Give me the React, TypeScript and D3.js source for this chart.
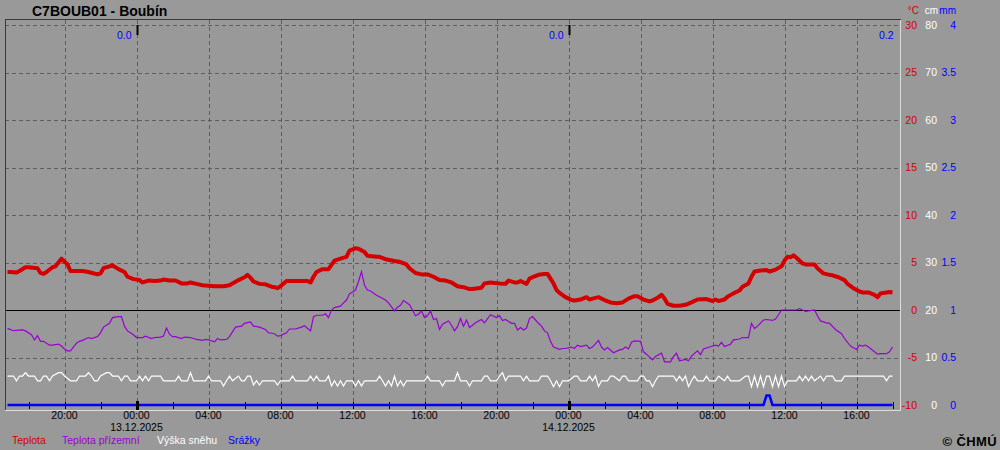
import React from "react";
import * as d3 from "d3";

// 10-minute steps since 12.12.2025 16:50
const START = new Date(2025, 11, 12, 16, 50);
const STEP_MIN = 10;

const TITLE = "C7BOUB01 - Boubín";

// [step index, °C]
const tempData: [number, number][] = [
  [0,4.0],[1,4.0],[3,3.95],[4,4.1],[6,4.5],[7,4.5],[10,4.4],[11,3.9],[12,3.8],[13,4.0],[15,4.5],[16,4.6],[17,5.0],[18,5.4],
  [20,4.8],[21,4.1],[23,4.1],[25,4.1],[27,4.0],[30,3.75],[31,3.85],[32,4.4],[34,4.6],[35,4.7],[37,4.3],[39,4.0],[40,3.5],
  [42,3.25],[44,3.15],[45,2.9],[47,3.1],[49,3.05],[51,3.1],[52,3.2],[54,3.1],[56,3.1],[58,2.8],[60,2.8],[61,2.9],[63,2.75],
  [65,2.6],[69,2.5],[72,2.5],[74,2.6],[75,2.8],[77,3.15],[79,3.45],[80,3.7],[81,3.4],[82,3.0],[84,2.75],[86,2.7],[88,2.45],
  [89,2.4],[90,2.3],[91,2.5],[93,3.05],[95,3.05],[98,3.05],[100,3.05],[101,2.9],[102,3.5],[103,4.0],[105,4.3],[107,4.3],
  [108,4.75],[109,5.2],[111,5.4],[113,5.6],[114,6.25],[116,6.5],[117,6.45],[119,6.1],[120,5.7],[123,5.6],[124,5.6],[126,5.35],
  [129,5.15],[131,5.05],[133,4.8],[134,4.4],[136,3.9],[138,3.75],[140,3.75],[142,3.5],[144,3.15],[146,3.1],[148,2.9],[150,2.5],
  [152,2.4],[154,2.2],[155,2.2],[158,2.35],[159,2.8],[161,2.9],[164,2.8],[166,2.75],[167,3.1],[169,2.9],[170,2.9],[171,3.05],
  [173,2.75],[174,3.3],[175,3.45],[177,3.7],[179,3.8],[180,3.8],[182,2.8],[183,2.1],[184,1.8],[186,1.35],[188,1.05],[189,1.0],
  [191,1.1],[193,1.35],[194,1.1],[195,1.2],[197,1.35],[199,1.05],[201,0.8],[203,0.7],[205,0.8],[207,1.2],[209,1.45],[210,1.45],
  [212,1.1],[214,0.9],[215,1.0],[217,1.35],[218,1.6],[219,1.2],[220,0.65],[222,0.45],[224,0.45],[226,0.55],[228,0.8],[230,1.1],
  [233,1.15],[235,0.95],[236,1.1],[237,0.95],[239,1.1],[240,1.4],[242,1.75],[244,2.05],[245,2.45],[247,2.8],[248,3.5],[249,4.05],
  [251,4.15],[253,4.2],[254,4.05],[256,4.25],[258,4.6],[259,5.2],[260,5.6],[261,5.55],[262,5.75],[263,5.5],[265,4.9],[266,4.8],
  [269,4.8],[270,4.4],[272,3.85],[274,3.7],[275,3.65],[277,3.45],[279,3.15],[280,2.75],[282,2.3],[284,1.95],[285,1.85],[287,1.85],
  [289,1.6],[290,1.35],[291,1.75],[293,1.85],[294,1.9],[295,1.85],
];

// [step index, °C] ground temperature
const groundData: [number, number][] = [
  [0,-1.93],[2,-2.18],[5,-2.1],[6,-2.2],[8,-2.6],[9,-3.15],[10,-2.7],[11,-3.3],[12,-3.3],[14,-3.7],[15,-3.7],[17,-3.6],[18,-3.8],
  [19,-4.1],[20,-4.3],[21,-4.3],[23,-3.5],[24,-3.3],[25,-3.2],[27,-2.9],[28,-3.0],[30,-2.8],[31,-2.4],[32,-1.8],[34,-1.4],
  [35,-0.8],[37,-0.7],[38,-0.7],[39,-1.7],[40,-2.2],[42,-2.6],[43,-2.9],[45,-2.9],[46,-2.75],[48,-3.0],[49,-2.9],[51,-2.85],
  [52,-2.75],[53,-1.9],[54,-2.55],[55,-2.8],[56,-2.8],[58,-3.0],[59,-2.85],[61,-2.9],[63,-3.1],[65,-3.2],[66,-3.1],[67,-3.15],
  [69,-3.35],[70,-3.0],[71,-3.15],[73,-3.1],[74,-2.8],[75,-2.3],[76,-1.8],[78,-1.7],[79,-1.4],[81,-1.25],[82,-1.7],[84,-1.8],
  [86,-2.05],[87,-2.4],[89,-2.5],[90,-2.75],[91,-2.7],[93,-2.4],[94,-2.0],[96,-2.0],[98,-1.8],[99,-1.65],[101,-2.2],[102,-0.7],
  [103,-0.55],[105,-0.55],[106,-0.4],[107,-0.8],[108,0],[109,0.25],[111,0.4],[112,0.75],[113,1.05],[114,1.7],[115,1.9],[116,2.1],
  [117,3.0],[118,4.05],[119,2.6],[120,2.1],[121,2.0],[123,1.55],[124,1.4],[126,1.05],[127,0.75],[129,-0.1],[130,0.3],[131,0.5],
  [132,1.0],[134,0.55],[135,0],[136,-0.6],[137,-0.45],[138,-0.1],[139,-0.8],[140,-0.6],[141,-0.1],[142,-1.0],[143,-0.9],
  [144,-2.05],[145,-1.5],[147,-1.15],[148,-1.6],[149,-2.2],[150,-1.75],[151,-0.9],[152,-1.7],[153,-1.05],[154,-1.85],[155,-1.6],
  [156,-1.35],[158,-1.0],[159,-1.35],[161,-0.5],[163,-0.8],[164,-0.6],[165,-1.1],[166,-1.0],[168,-1.4],[169,-1.4],[170,-2.1],
  [171,-1.85],[172,-2.1],[173,-1.9],[174,-0.9],[175,-0.7],[176,-1.05],[177,-1.4],[178,-1.7],[179,-2.2],[180,-2.4],[181,-3.3],
  [182,-3.9],[184,-4.15],[185,-4.05],[186,-4.05],[188,-3.9],[189,-4.05],[190,-3.7],[191,-3.85],[193,-3.7],[194,-4.05],[195,-3.9],
  [197,-3.2],[198,-3.9],[199,-4.2],[200,-3.95],[202,-4.5],[204,-4.2],[205,-4.15],[206,-3.9],[207,-4.1],[208,-3.4],[209,-3.25],
  [211,-3.3],[212,-4.4],[213,-4.65],[215,-5.25],[216,-4.9],[218,-4.55],[219,-5.45],[221,-5.45],[222,-4.9],[223,-4.55],[224,-5.35],
  [226,-5.2],[227,-5.35],[228,-4.85],[230,-4.3],[231,-4.7],[232,-4.1],[234,-3.9],[236,-3.7],[237,-3.8],[238,-3.4],[239,-3.85],
  [241,-3.6],[242,-3.15],[244,-3.05],[245,-2.9],[247,-2.9],[248,-1.4],[249,-1.95],[250,-1.7],[252,-1.05],[253,-1.0],[255,-1.1],
  [256,-0.95],[257,-0.5],[258,0],[260,0],[263,0],[264,0.15],[265,0],[266,-0.15],[269,0],[270,-0.6],[271,-1.15],[273,-1.35],
  [274,-1.4],[276,-2.05],[278,-2.5],[279,-3.0],[281,-3.8],[283,-4.15],[284,-3.7],[285,-3.8],[286,-3.7],[287,-3.9],[289,-4.4],
  [290,-4.65],[291,-4.6],[293,-4.6],[294,-4.4],[295,-3.9],
];

// [step index, cm] snow depth
const snowData: [number, number][] = [
  [0,6.1],[2,6.1],[3,5.1],[4,6.1],[5,6.1],[6,6.8],[7,6.1],[9,6.1],[10,5.1],[11,5.1],[12,6.1],[13,6.1],[14,5.1],[15,6.1],
  [17,6.8],[18,6.8],[19,6.1],[21,5.1],[23,5.1],[24,6.1],[26,6.1],[27,6.8],[28,6.1],[29,5.1],[30,5.1],[31,6.1],[33,6.8],[34,6.8],
  [35,6.1],[37,6.1],[38,5.1],[39,6.1],[40,6.1],[41,5.1],[43,5.1],[44,6.1],[45,5.1],[46,6.1],[47,5.1],[48,6.1],[51,6.1],[52,5.1],
  [56,5.1],[57,6.1],[58,5.1],[60,5.1],[61,6.8],[62,5.1],[66,5.1],[67,6.1],[68,5.1],[71,5.1],[72,4.0],[73,5.1],[74,6.1],[75,5.1],
  [77,6.1],[78,5.1],[79,5.1],[80,6.1],[81,6.1],[82,4.2],[83,5.1],[84,4.2],[85,5.1],[89,5.1],[90,4.2],[91,5.1],[94,5.1],[95,6.1],
  [96,5.1],[100,5.1],[101,6.1],[102,5.1],[103,6.1],[104,5.1],[106,5.1],[107,6.1],[108,4.0],[109,5.1],[110,4.0],[111,5.1],
  [112,4.0],[113,5.1],[115,5.1],[116,4.0],[117,5.1],[118,4.0],[119,5.1],[123,5.1],[124,6.1],[125,5.1],[126,4.0],[127,5.1],
  [128,4.0],[129,6.1],[130,4.0],[131,5.1],[132,4.0],[133,5.1],[139,5.1],[140,6.1],[141,5.1],[144,5.1],[145,4.0],[146,5.1],
  [149,5.1],[150,6.8],[151,5.1],[153,5.1],[154,4.0],[155,5.1],[158,5.1],[159,6.1],[160,6.1],[161,5.1],[163,5.1],[164,6.1],
  [165,6.8],[166,5.1],[167,6.1],[171,6.1],[172,5.1],[173,6.1],[174,5.1],[177,5.1],[178,6.1],[180,6.1],[181,5.1],[182,3.85],
  [183,5.1],[184,3.85],[185,5.1],[187,5.1],[189,6.1],[190,6.1],[191,5.1],[193,5.1],[194,6.1],[195,5.1],[196,6.1],[197,3.85],
  [198,5.1],[200,5.1],[201,6.1],[202,6.1],[204,5.1],[205,6.1],[206,6.1],[207,5.1],[210,5.1],[211,6.1],[212,6.1],[213,5.1],
  [214,5.1],[215,3.85],[216,5.1],[217,6.1],[222,6.1],[223,5.1],[224,6.1],[225,5.1],[226,6.1],[227,3.85],[228,5.1],[229,6.1],
  [230,5.1],[232,5.1],[233,6.1],[234,5.1],[236,5.1],[237,6.1],[239,5.1],[240,6.1],[241,5.1],[244,5.1],[246,6.1],[247,6.1],
  [248,3.85],[249,6.1],[250,3.85],[251,6.1],[252,3.85],[253,6.1],[254,6.1],[255,3.85],[256,6.1],[257,3.85],[258,6.1],[259,3.85],
  [260,5.1],[263,5.1],[264,6.1],[265,5.1],[266,6.1],[267,5.1],[268,6.1],[269,5.1],[271,6.1],[272,5.1],[273,6.1],[275,6.1],
  [276,5.1],[278,5.1],[279,6.1],[292,6.1],[293,5.1],[294,6.1],[295,6.1],
];

// [step index, mm] precipitation
const precipData: [number, number][] = [
  [0,0],[252,0],[253,0.1],[254,0.1],[255,0],[295,0],
];

// daily precipitation sums shown at the top: [step index of period end, label]
const precipSums: [number, string][] = [
  [43, "0.0"], [187, "0.0"], [295, "0.2"],
];

const tempTicks = [30, 25, 20, 15, 10, 5, 0, -5, -10];
const snowTicks = [80, 70, 60, 50, 40, 30, 20, 10, 0];
const precipTicks = [4, 3.5, 3, 2.5, 2, 1.5, 1, 0.5, 0];

const legendItems = [
  { label: "Teplota", color: "#d40000" },
  { label: "Teplota přízemní", color: "#9a00d4" },
  { label: "Výška sněhu", color: "#ffffff" },
  { label: "Srážky", color: "#0000ff" },
];
const legendX = [12, 62, 157, 228];

const FONT = "'Liberation Sans', Arial, sans-serif";

export default function App() {
  const W = 1000, H = 450;
  const L = 5, R = 900, T = 20, B = 410;

  const toDate = (i: number) => new Date(START.getTime() + i * STEP_MIN * 60000);
  const x = d3.scaleTime()
    .domain([new Date(2025, 11, 13, 0, 0), new Date(2025, 11, 14, 0, 0)])
    .range([136.5, 568.5]);
  const yT = d3.scaleLinear().domain([-10, 30]).range([405, 25]);
  const yS = d3.scaleLinear().domain([0, 80]).range([405, 25]);
  const yP = d3.scaleLinear().domain([0, 4]).range([405, 25]);

  const mk = (ys: d3.ScaleLinear<number, number>) =>
    d3.line<[number, number]>().x(d => x(toDate(d[0]))).y(d => ys(d[1]));

  const endTime = toDate(295);
  const firstTick = new Date(2025, 11, 12, 18, 0);
  const ticks2h = d3.timeHour.every(2)!.range(firstTick, new Date(endTime.getTime() + 1));
  const labelTimes = d3.timeHour.every(4)!.range(new Date(2025, 11, 12, 20, 0), new Date(2025, 11, 14, 16, 1));
  const midnights = d3.timeDay.range(new Date(2025, 11, 12, 1), endTime);
  const fmtH = d3.timeFormat("%H:%M");
  const fmtD = d3.timeFormat("%d.%m.%Y");

  const gridCol = "#5e5e5e";

  return (
    <svg width={W} height={H} style={{ position: "absolute", left: 0, top: 0 }} fontFamily={FONT}>
      <rect x={0} y={0} width={W} height={H} fill="#999999" />
      {/* horizontal grid */}
      {tempTicks.filter(v => v !== 0 && v !== -10).map(v => (
        <line key={"hg" + v} x1={L} x2={R} y1={Math.round(yT(v)) + 0.5} y2={Math.round(yT(v)) + 0.5}
          stroke={gridCol} strokeDasharray="4,3" shapeRendering="crispEdges" />
      ))}
      {/* vertical grid */}
      {labelTimes.map((t, i) => (
        <line key={"vg" + i} x1={Math.round(x(t)) + 0.5} x2={Math.round(x(t)) + 0.5} y1={T} y2={B}
          stroke={gridCol} strokeDasharray="4,3" shapeRendering="crispEdges" />
      ))}
      {/* zero line */}
      <line x1={L} x2={R} y1={yT(0) + 0.5} y2={yT(0) + 0.5} stroke="#000" shapeRendering="crispEdges" />

      {/* series */}
      <path d={mk(yS)(snowData)!} fill="none" stroke="#ffffff" strokeWidth={1.2} />
      <path d={mk(yT)(groundData)!} fill="none" stroke="#9a00d4" strokeWidth={1.2} />
      <path d={mk(yT)(tempData)!} fill="none" stroke="#d40000" strokeWidth={4} strokeLinejoin="round" />
      <path d={mk(yP)(precipData)!} fill="none" stroke="#0000ff" strokeWidth={2.5} />

      {/* bottom ticks */}
      {ticks2h.map((t, i) => {
        const mid = t.getHours() === 0;
        const xx = Math.round(x(t)) + 0.5;
        return mid ? (
          <rect key={"bt" + i} x={xx - 1.5} y={401} width={3} height={9} fill="#000" />
        ) : (
          <line key={"bt" + i} x1={xx} x2={xx} y1={402} y2={409} stroke="#000" shapeRendering="crispEdges" />
        );
      })}
      {/* top midnight ticks */}
      {midnights.map((t, i) => (
        <rect key={"tt" + i} x={Math.round(x(t)) - 0.5} y={25} width={2} height={10} fill="#000" />
      ))}

      {/* frame */}
      <line x1={L + 0.5} x2={L + 0.5} y1={T} y2={B + 1} stroke="#3a3a3a" shapeRendering="crispEdges" />
      <line x1={L} x2={R + 1} y1={T - 0.5} y2={T - 0.5} stroke="#3a3a3a" shapeRendering="crispEdges" />
      <line x1={R + 0.5} x2={R + 0.5} y1={T} y2={B + 1} stroke="#dcdcdc" shapeRendering="crispEdges" />
      <line x1={L} x2={R + 1} y1={B + 0.5} y2={B + 0.5} stroke="#dcdcdc" shapeRendering="crispEdges" />

      {/* precip sums */}
      {precipSums.map(([i, lab], k) => (
        <text key={"ps" + k} x={x(toDate(i)) + (k === precipSums.length - 1 ? 1 : -5)} y={39}
          textAnchor="end" fontSize={10.5} fill="#0000ff">{lab}</text>
      ))}

      {/* title */}
      <text x={32} y={16} fontSize={14} fontWeight="bold" fill="#000">{TITLE}</text>

      {/* right axis headers */}
      <text x={919} y={14} textAnchor="end" fontSize={10} fill="#d40000">°C</text>
      <text x={938} y={14} textAnchor="end" fontSize={10} fill="#ffffff">cm</text>
      <text x={956} y={14} textAnchor="end" fontSize={10} fill="#0000ff">mm</text>
      {tempTicks.map(v => (
        <text key={"tl" + v} x={917} y={yT(v) + 3.8} textAnchor="end" fontSize={10.5} fill="#d40000">{v}</text>
      ))}
      {snowTicks.map(v => (
        <text key={"sl" + v} x={937} y={yS(v) + 3.8} textAnchor="end" fontSize={10.5} fill="#ffffff">{v}</text>
      ))}
      {precipTicks.map(v => (
        <text key={"pl" + v} x={956} y={yP(v) + 3.8} textAnchor="end" fontSize={10.5} fill="#0000ff">{String(v)}</text>
      ))}

      {/* time labels */}
      {labelTimes.map((t, i) => (
        <text key={"xl" + i} x={x(t)} y={419} textAnchor="middle" fontSize={10.5} fill="#000">{fmtH(t)}</text>
      ))}
      {midnights.map((t, i) => (
        <text key={"dl" + i} x={x(t)} y={431} textAnchor="middle" fontSize={10.5} fill="#000">{fmtD(t)}</text>
      ))}

      {/* legend */}
      {legendItems.map((it, i) => (
        <text key={"lg" + i} x={legendX[i]} y={444} fontSize={10.5} fill={it.color}>{it.label}</text>
      ))}
      <text x={997} y={446} textAnchor="end" fontSize={13} fontWeight="bold" fill="#000" letterSpacing={0.4}>© ČHMÚ</text>
    </svg>
  );
}
